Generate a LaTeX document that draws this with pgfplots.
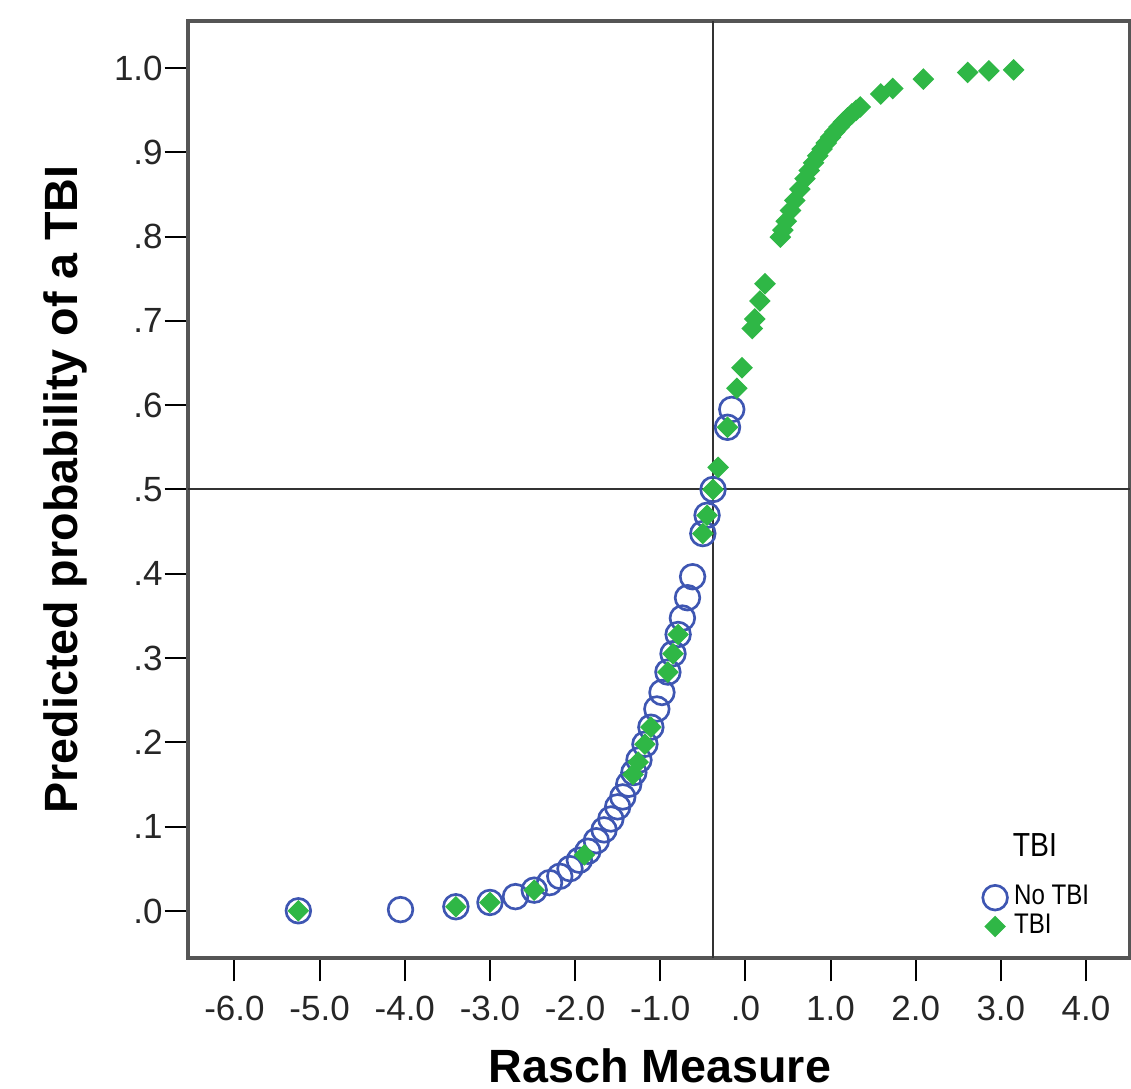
\documentclass[border=0pt]{standalone}
\usepackage{fontspec}
\setmainfont{Liberation Sans}
\newfontfamily\legfont[FakeStretch=0.85]{Liberation Sans}
\usepackage{pgfplots}
\usepackage{pgfplotstable}
\pgfplotsset{compat=1.18}

\definecolor{notbiblue}{RGB}{62,86,178}
\definecolor{tbigreen}{RGB}{47,183,70}
\definecolor{framegray}{RGB}{85,85,85}

% Rasch measure and predicted probability, respondents without a TBI
\pgfplotstableread{
x p
-5.25 0.0002
-4.05 0.0016
-3.40 0.0050
-3.00 0.0101
-2.70 0.0170
-2.48 0.0247
-2.30 0.0336
-2.18 0.0411
-2.06 0.0502
-1.95 0.0602
-1.85 0.0709
-1.75 0.0833
-1.66 0.0962
-1.58 0.1091
-1.50 0.1235
-1.44 0.1353
-1.37 0.1503
-1.31 0.1642
-1.25 0.1791
-1.18 0.1978
-1.11 0.2180
-1.04 0.2396
-0.98 0.2592
-0.91 0.2834
-0.85 0.3052
-0.79 0.3280
-0.74 0.3475
-0.68 0.3716
-0.62 0.3965
-0.50 0.4477
-0.45 0.4694
-0.38 0.5000
-0.21 0.5738
-0.16 0.5950
}\notbi

% Rasch measure and predicted probability, respondents with a TBI
\pgfplotstableread{
x p
-5.25 0.0002
-3.40 0.0050
-3.00 0.0101
-2.48 0.0247
-1.89 0.0665
-1.32 0.1618
-1.26 0.1766
-1.18 0.1978
-1.11 0.2180
-0.91 0.2834
-0.85 0.3052
-0.79 0.3280
-0.50 0.4477
-0.45 0.4694
-0.38 0.5000
-0.32 0.5262
-0.21 0.5738
-0.10 0.6201
-0.04 0.6445
0.08 0.6910
0.11 0.7022
0.17 0.7236
0.23 0.7441
0.41 0.7994
0.44 0.8077
0.48 0.8183
0.53 0.8310
0.58 0.8429
0.64 0.8563
0.70 0.8688
0.75 0.8784
0.80 0.8875
0.85 0.8959
0.90 0.9038
0.95 0.9111
1.00 0.9180
1.05 0.9243
1.10 0.9302
1.15 0.9357
1.20 0.9408
1.25 0.9455
1.30 0.9498
1.35 0.9538
1.59 0.9692
1.73 0.9757
2.09 0.9869
2.61 0.9947
2.86 0.9966
3.15 0.9979
}\tbi

\begin{document}
\begin{tikzpicture}
\useasboundingbox (0pt,0pt) rectangle (339.3pt,326.4pt);
\begin{axis}[
  at={(56.4pt,39pt)}, anchor=south west,
  scale only axis,
  width=282.6pt, height=281.1pt,
  xmin=-6.546, xmax=4.517,
  ymin=-0.0558, ymax=1.0558,
  axis line style={framegray, line width=1pt},
  tick align=outside,
  major tick length=7pt,
  tick style={black, line width=0.6pt},
  xtick={-6,-5,...,4},
  xticklabels={-6.0,-5.0,-4.0,-3.0,-2.0,-1.0,.0,1.0,2.0,3.0,4.0},
  ytick={0,0.1,...,1.0},
  yticklabels={.0,.1,.2,.3,.4,.5,.6,.7,.8,.9,1.0},
  xtick pos=bottom, ytick pos=left,
  ticklabel style={font=\fontsize{10.5}{12}\selectfont, text=black!85},
  xticklabel style={yshift=-1pt},
  yticklabel style={inner xsep=0.4pt},
  extra x ticks={-0.38},
  extra x tick labels={},
  extra x tick style={grid=major, major tick length=0pt, grid style={black!80, line width=0.6pt}},
  extra y ticks={0.5},
  extra y tick labels={},
  extra y tick style={grid=major, major tick length=0pt, grid style={black!80, line width=0.6pt}},
  xlabel={Rasch Measure},
  ylabel={Predicted probability of a TBI},
  label style={font=\bfseries\fontsize{14}{16}\selectfont},
  xlabel style={at={(axis description cs:0.501,-0.133)}, anchor=base},
  ylabel style={at={(axis description cs:-0.1178,0.5)}, anchor=base},
  legend style={at={(axis description cs:0.843,0.081)}, anchor=north west,
    draw=none, fill=none, inner sep=0pt, row sep=-0.3pt, column sep=1.2pt,
    font=\legfont\fontsize{8.5}{10}\selectfont,
    nodes={inner sep=0.8pt}},
  legend cell align=left,
  legend image code/.code={\draw[#1] plot coordinates {(0pt,0pt)};},
]
\addplot[only marks, mark=o, mark size=3.7pt, notbiblue, line width=0.8pt]
  table[x=x, y=p] {\notbi};
\addlegendentry{No TBI}
\addplot[only marks, mark=square*, mark size=2.1pt, tbigreen,
  mark options={rotate=45, draw=tbigreen, fill=tbigreen}]
  table[x=x, y=p] {\tbi};
\addlegendentry{TBI}
\node[anchor=base, font=\legfont\fontsize{10}{12}\selectfont, inner sep=0pt]
  at (axis description cs:0.899,0.108) {TBI};
\end{axis}
\end{tikzpicture}
\end{document}
